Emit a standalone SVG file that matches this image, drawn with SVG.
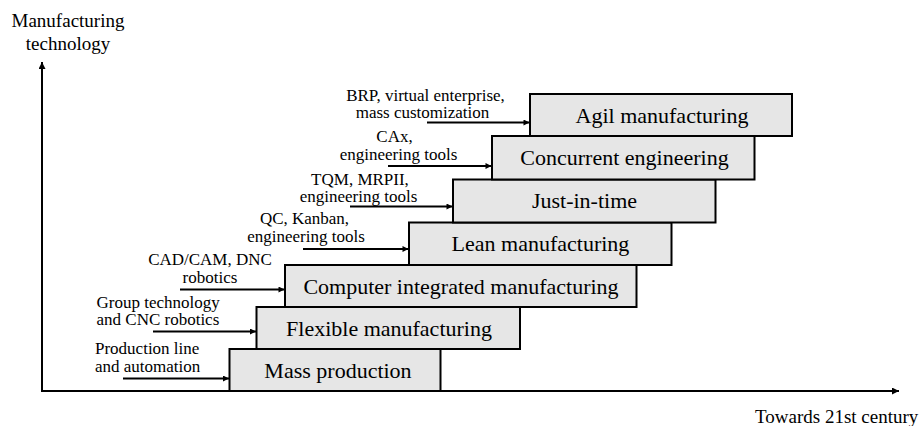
<svg xmlns="http://www.w3.org/2000/svg" width="923" height="426" viewBox="0 0 923 426">
<style>
  .box { fill: #e6e6e6; stroke: #000; stroke-width: 2; }
  .bl { font-family: "Liberation Serif", "Times New Roman", serif; font-size: 22px; fill: #000; text-anchor: middle; }
  .sl { font-family: "Liberation Serif", "Times New Roman", serif; font-size: 17px; fill: #000; text-anchor: middle; }
  .sll { font-family: "Liberation Serif", "Times New Roman", serif; font-size: 17px; fill: #000; }
  .al { font-family: "Liberation Serif", "Times New Roman", serif; font-size: 19px; fill: #000; }
  .axis { stroke: #000; stroke-width: 2; fill: none; }
  .conn { stroke: #000; stroke-width: 2; fill: none; }
</style>
<defs>
  <marker id="ah" viewBox="0 0 10 10" refX="10" refY="5" markerWidth="8" markerHeight="6" markerUnits="userSpaceOnUse" orient="auto">
    <path d="M0,0 L10,5 L0,10 Z" fill="#000"/>
  </marker>
  <marker id="axh" viewBox="0 0 10 10" refX="10" refY="5" markerWidth="10" markerHeight="7" markerUnits="userSpaceOnUse" orient="auto">
    <path d="M0,0 L10,5 L0,10 Z" fill="#000"/>
  </marker>
</defs>
<rect width="923" height="426" fill="#fff"/>

<g id="axes">
  <line class="axis" x1="42" y1="391" x2="42" y2="62" marker-end="url(#axh)"/>
  <line class="axis" x1="41" y1="391" x2="899" y2="391" marker-end="url(#axh)"/>
  <text class="al" x="68" y="27" text-anchor="middle">Manufacturing</text>
  <text class="al" x="68" y="50" text-anchor="middle">technology</text>
  <text class="al" x="755" y="423">Towards 21st century</text>
</g>

<g id="node-mass">
  <rect class="box" x="229.5" y="349" width="211" height="42"/>
  <text class="bl" x="338" y="377.5">Mass production</text>
</g>
<g id="node-flexible">
  <rect class="box" x="256.5" y="307" width="263.5" height="42"/>
  <text class="bl" x="389" y="335.5">Flexible manufacturing</text>
</g>
<g id="node-cim">
  <rect class="box" x="285" y="265" width="351.5" height="42"/>
  <text class="bl" x="461" y="293.5">Computer integrated manufacturing</text>
</g>
<g id="node-lean">
  <rect class="box" x="409" y="222.5" width="262.5" height="42.5"/>
  <text class="bl" x="540.5" y="251">Lean manufacturing</text>
</g>
<g id="node-jit">
  <rect class="box" x="453" y="179.5" width="262.5" height="43"/>
  <text class="bl" x="584.5" y="208">Just-in-time</text>
</g>
<g id="node-concurrent">
  <rect class="box" x="492" y="136" width="262.5" height="43.5"/>
  <text class="bl" x="624.5" y="165">Concurrent engineering</text>
</g>
<g id="node-agil">
  <rect class="box" x="530" y="94" width="262" height="42"/>
  <text class="bl" x="662" y="122.5">Agil manufacturing</text>
</g>

<g id="labels">
  <text class="sll" x="95" y="354">Production line</text>
  <text class="sll" x="95" y="371.5">and automation</text>
  <text class="sll" x="96.5" y="308">Group technology</text>
  <text class="sll" x="96.5" y="325">and CNC robotics</text>
  <text class="sl" x="210" y="265">CAD/CAM, DNC</text>
  <text class="sl" x="210" y="283">robotics</text>
  <text class="sl" x="304.5" y="224">QC, Kanban,</text>
  <text class="sl" x="306" y="241.5">engineering tools</text>
  <text class="sl" x="360" y="185">TQM, MRPII,</text>
  <text class="sl" x="358.5" y="202">engineering tools</text>
  <text class="sl" x="394.5" y="142">CAx,</text>
  <text class="sl" x="398.5" y="160">engineering tools</text>
  <text class="sl" x="425.5" y="101">BRP, virtual enterprise,</text>
  <text class="sl" x="422.5" y="118">mass customization</text>
</g>

<g id="connectors">
  <line class="conn" x1="123" y1="378.5" x2="229" y2="378.5" marker-end="url(#ah)"/>
  <line class="conn" x1="153" y1="331.5" x2="256" y2="331.5" marker-end="url(#ah)"/>
  <line class="conn" x1="180" y1="289.5" x2="284.5" y2="289.5" marker-end="url(#ah)"/>
  <line class="conn" x1="303" y1="249" x2="408.5" y2="249" marker-end="url(#ah)"/>
  <line class="conn" x1="350" y1="206.5" x2="452.5" y2="206.5" marker-end="url(#ah)"/>
  <line class="conn" x1="388" y1="166" x2="491.5" y2="166" marker-end="url(#ah)"/>
  <line class="conn" x1="427" y1="122.5" x2="529.5" y2="122.5" marker-end="url(#ah)"/>
</g>
</svg>
